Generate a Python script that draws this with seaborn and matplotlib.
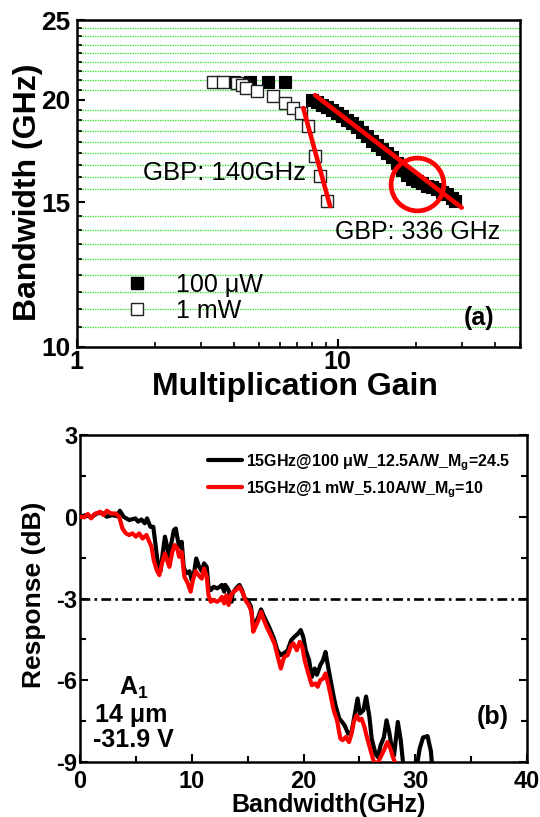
import numpy as np
import pandas as pd
import matplotlib
matplotlib.use("Agg")
import matplotlib.pyplot as plt
import seaborn as sns
from matplotlib.ticker import FixedLocator, NullFormatter, LogLocator
from matplotlib.lines import Line2D

# ---------------- Panel (a) data ----------------
gain_100uw = [4.0, 4.6, 5.4, 6.3,
              7.96, 8.32, 8.70, 9.09, 9.50, 9.92, 10.37, 10.84, 11.33, 11.84, 12.37,
              12.93, 13.51, 14.12, 14.76, 15.43, 16.12, 16.85, 17.61, 18.41, 19.23,
              20.10, 21.01, 21.96, 22.94, 23.98, 25.06, 26.20, 27.36, 28.19]
bw_100uw = [21.0, 21.0, 21.0, 21.0,
            20.0, 19.86, 19.71, 19.58, 19.43, 19.27, 19.09, 18.91, 18.73, 18.51, 18.28,
            18.05, 17.82, 17.61, 17.41, 17.20, 17.01, 16.74, 16.42, 16.18, 16.00,
            15.92, 15.82, 15.70, 15.63, 15.55, 15.44, 15.34, 15.19, 15.05]
gain_1mw = [3.34, 3.63, 4.11, 4.30, 4.46, 4.93, 5.64, 6.31, 6.77, 7.26, 7.73, 8.20, 8.57, 9.09]
bw_1mw = [21.01, 21.01, 20.97, 20.81, 20.66, 20.46, 20.20, 19.82, 19.52, 19.25, 18.56, 17.09, 16.12, 15.05]
fit_140_x = [7.39, 9.36]
fit_140_y = [19.53, 14.84]
fit_336_x = [8.2, 29.9]
fit_336_y = [20.25, 14.77]
circle_x = [20.1]
circle_y = [15.78]
a_yticks = [10, 15, 20, 25]
a_xticks = [1, 10]

# ---------------- Panel (b) data ----------------
freq_100uw = [0, 0.55, 1.0, 1.5, 1.94, 2.4, 2.87, 3.3, 3.57, 3.9, 4.4, 4.96, 5.2, 5.5, 5.8, 6.0,
              6.3, 6.56, 6.78, 7.0, 7.2, 7.4, 7.6, 7.8, 7.95, 8.17, 8.4, 8.57, 8.7, 8.87, 9.1,
              9.28, 9.5, 9.8, 10.0, 10.2, 10.4, 10.66, 10.9, 11.1, 11.34, 11.5, 11.7, 11.96,
              12.27, 12.5, 12.7, 12.9, 13.0, 13.3, 13.56, 13.65, 13.96, 14.27, 14.5, 14.73,
              15.0, 15.3, 15.5, 15.7, 15.96, 16.2, 16.4, 16.7, 16.98, 17.35, 17.66, 17.97,
              18.27, 18.58, 18.9, 19.2, 19.5, 19.75, 19.97, 20.2, 20.5, 20.74, 21.0, 21.2,
              21.5, 21.75, 21.97, 22.2, 22.4, 22.7, 22.9, 23.2, 23.45, 23.67, 24.0, 24.3,
              24.6, 24.84, 25.05, 25.36, 25.6, 25.9, 26.1, 26.44, 26.65, 26.9, 27.2, 27.43,
              27.67, 27.9, 28.1, 28.44, 28.7, 28.9, 29.2, 30.0, 30.4, 30.7, 31.1, 31.4, 31.6]
resp_100uw = [0, 0.06, -0.02, 0.12, 0.15, 0.0, 0.06, 0.02, 0.22, 0.0, -0.12, -0.06, -0.18, -0.1,
              -0.24, -0.06, -0.37, -0.37, -1.1, -1.84, -2.0, -1.35, -0.73, -1.1, -1.47, -0.98,
              -0.49, -0.43, -0.73, -1.1, -0.92, -1.84, -2.08, -2.0, -2.33, -2.08, -1.53, -1.84,
              -2.0, -1.71, -1.84, -2.57, -2.69, -2.57, -2.63, -2.57, -2.5, -2.75, -2.5, -2.69,
              -3.12, -2.82, -2.63, -2.5, -2.69, -3.0, -3.06, -3.3, -4.04, -3.92, -3.67, -3.4,
              -3.6, -3.86, -4.1, -4.47, -4.9, -5.08, -5.0, -4.9, -4.53, -4.4, -4.29, -4.16,
              -4.4, -4.9, -5.26, -5.88, -5.57, -5.8, -5.45, -5.26, -4.96, -5.5, -5.94, -6.6,
              -6.98, -7.4, -7.53, -7.65, -7.96, -7.9, -7.22, -6.67, -7.22, -7.1, -6.6, -7.35,
              -8.14, -8.69, -8.82, -8.39, -8.08, -7.47, -7.9, -8.5, -8.76, -7.53, -8.2, -9.0,
              -9.6, -9.5, -8.5, -8.1, -8.05, -8.6, -9.6]
freq_1mw = [0, 0.4, 0.7, 1.0, 1.3, 1.8, 2.1, 2.4, 2.77, 3.2, 3.5, 3.8, 4.1, 4.4, 4.7, 5.0, 5.3,
            5.6, 5.95, 6.2, 6.4, 6.6, 6.87, 7.1, 7.33, 7.6, 7.8, 8.0, 8.26, 8.47, 8.7, 8.87,
            9.1, 9.34, 9.65, 9.9, 10.1, 10.35, 10.6, 10.9, 11.1, 11.34, 11.5, 11.7, 11.96,
            12.27, 12.5, 12.7, 12.9, 13.1, 13.3, 13.56, 13.96, 14.27, 14.6, 14.8, 15.1, 15.35,
            15.5, 15.7, 15.96, 16.2, 16.4, 16.7, 17.0, 17.4, 17.7, 17.97, 18.27, 18.58, 18.9,
            19.1, 19.4, 19.66, 19.9, 20.1, 20.43, 20.74, 21.05, 21.27, 21.5, 21.75, 21.97,
            22.2, 22.4, 22.7, 23.0, 23.3, 23.5, 23.8, 24.07, 24.3, 24.5, 24.75, 25.0, 25.2,
            25.45, 25.67, 26.0, 26.3, 26.6, 26.9, 27.2, 27.5, 27.77, 28.0, 28.23, 28.5]
resp_1mw = [0, -0.02, 0.1, -0.06, 0.1, 0.18, 0.06, 0.22, 0.12, 0.12, 0.0, -0.43, -0.61, -0.67,
            -0.61, -0.73, -0.61, -0.8, -0.67, -0.92, -1.1, -1.6, -1.96, -2.14, -1.71, -1.35,
            -1.6, -1.84, -1.29, -1.04, -1.16, -1.47, -1.29, -2.2, -2.45, -2.75, -2.33, -2.0,
            -2.14, -2.27, -1.9, -2.2, -2.88, -3.12, -3.06, -3.12, -3.06, -2.94, -3.18, -2.88,
            -3.24, -2.82, -2.69, -2.57, -2.82, -3.06, -3.24, -3.49, -4.22, -4.04, -3.8, -3.49,
            -3.73, -4.04, -4.29, -4.65, -5.14, -5.57, -5.14, -5.08, -4.71, -4.65, -4.9, -4.59,
            -4.78, -5.26, -5.75, -6.18, -6.12, -6.24, -6.0, -5.94, -5.75, -6.12, -6.49, -7.1,
            -7.47, -8.14, -8.2, -8.08, -8.27, -7.96, -7.53, -7.29, -7.47, -7.41, -7.71, -8.08,
            -8.57, -9.0, -9.06, -8.82, -8.57, -8.27, -8.5, -8.82, -9.06, -9.5]
ref_db = -3
b_xticks = [0, 10, 20, 30, 40]
b_yticks = [-9, -6, -3, 0, 3]

label_100 = "100 \u03bcW"
label_1m = "1 mW"
label_b1 = "15GHz@100 \u03bcW_12.5A/W_M$_\\mathregular{g}$=24.5"
label_b2 = "15GHz@1 mW_5.10A/W_M$_\\mathregular{g}$=10"

# ---------------- style ----------------
sns.set_style("white")
plt.rcParams['font.family'] = ['Liberation Sans', 'DejaVu Sans']
plt.rcParams['mathtext.fontset'] = 'custom'
plt.rcParams['mathtext.rm'] = 'Liberation Sans'
plt.rcParams['mathtext.it'] = 'Liberation Sans:italic'
plt.rcParams['mathtext.bf'] = 'Liberation Sans:bold'
for k in ['text.color', 'axes.labelcolor', 'xtick.color', 'ytick.color', 'axes.edgecolor']:
    plt.rcParams[k] = 'black'

W, H = 540, 817
fig = plt.figure(figsize=(W / 100, H / 100), dpi=100)
def fx(p): return p / W
def fy(p): return 1 - p / H

ax1 = fig.add_axes([fx(76.5), fy(346.7), (520 - 76.5) / W, (346.7 - 20) / H])
ax2 = fig.add_axes([fx(80), fy(762), (527 - 80) / W, (762 - 435) / H])

# ---------------- Panel (a) ----------------
ax1.set_xscale('log')
ax1.set_yscale('log')
sns.scatterplot(x=gain_100uw, y=bw_100uw, marker='s', s=85, color='black',
                edgecolor='black', linewidth=0.8, ax=ax1, legend=False, zorder=3)
sns.scatterplot(x=gain_1mw, y=bw_1mw, marker='s', s=85, color='white',
                edgecolor='#222222', linewidth=1.0, ax=ax1, legend=False, zorder=4)
sns.lineplot(x=fit_140_x, y=fit_140_y, color='#ff0000', lw=3.3, ax=ax1, zorder=5)
sns.lineplot(x=fit_336_x, y=fit_336_y, color='#ff0000', lw=3.3, ax=ax1, zorder=5)
ax1.plot(circle_x, circle_y, marker='o', ms=38, mfc='none', mec='#ff0000', mew=3.4,
         ls='none', zorder=6)

ax1.set_xlim(1, 50)
ax1.set_ylim(10, 25)
ax1.set_xticks(a_xticks, [str(v) for v in a_xticks], fontsize=18, fontweight='bold')
ax1.xaxis.set_minor_locator(LogLocator(base=10, subs=np.arange(2, 10), numticks=20))
ax1.xaxis.set_minor_formatter(NullFormatter())
ax1.set_yticks(a_yticks, [str(v) for v in a_yticks], fontsize=19, fontweight='bold')
minor_y = []
for lo, hi in zip(a_yticks[:-1], a_yticks[1:]):
    minor_y += [lo + (hi - lo) * k / 9 for k in range(1, 9)]
ax1.yaxis.set_minor_locator(FixedLocator(minor_y))
ax1.yaxis.set_minor_formatter(NullFormatter())
ax1.grid(False)
ax1.grid(which='minor', axis='y', color='#1ee61e', linestyle=(0, (1, 1)), lw=0.9)
ax1.set_axisbelow(True)
ax1.tick_params(which='both', direction='in', left=True, bottom=True, top=False, right=False)
ax1.tick_params(which='major', length=6, width=1.5)
ax1.tick_params(which='minor', length=3.5, width=1.2)
ax1.tick_params(axis='y', which='major', pad=4.5)
ax1.tick_params(axis='x', which='major', pad=2.5)
for s in ax1.spines.values():
    s.set_linewidth(1.8)
    s.set_color('black')
ax1.set_xlabel('')
ax1.set_ylabel('')

h1 = [Line2D([], [], marker='s', ls='none', mfc='black', mec='black', ms=9),
      Line2D([], [], marker='s', ls='none', mfc='white', mec='#222222', ms=9, mew=1.0)]
ax1.legend(h1, [label_100, label_1m], loc='upper left',
           bbox_to_anchor=(fx(124.2), fy(272.6)), bbox_transform=fig.transFigure,
           frameon=False, borderpad=0, borderaxespad=0, handlelength=1.0,
           handletextpad=1.06, labelspacing=0.1, fontsize=18)

fig.text(fx(28), fy(192.5), 'Bandwidth (GHz)', rotation=90, fontsize=23,
         fontweight='bold', ha='center', va='center')
fig.text(fx(294.5), fy(387), 'Multiplication Gain', fontsize=23, fontweight='bold',
         ha='center', va='center')
fig.text(fx(143), fy(173), 'GBP: 140GHz', fontsize=18.5, ha='left', va='center')
fig.text(fx(335), fy(231.7), 'GBP: 336 GHz', fontsize=18, ha='left', va='center')
fig.text(fx(478.6), fy(318), '(a)', fontsize=18, fontweight='bold', ha='center', va='center')

# ---------------- Panel (b) ----------------
sns.lineplot(x=freq_100uw, y=resp_100uw, sort=False, estimator=None, color='black',
             lw=3.0, ax=ax2, zorder=3)
sns.lineplot(x=freq_1mw, y=resp_1mw, sort=False, estimator=None, color='#ff0000',
             lw=3.0, ax=ax2, zorder=4)
ax2.axhline(ref_db, color='black', lw=1.9, ls=(0, (3.7, 1.6, 1, 1.6)), zorder=2)
ax2.set_xlim(0, 40)
ax2.set_ylim(-9, 3)
ax2.set_xticks(b_xticks, [str(v) for v in b_xticks], fontsize=17, fontweight='bold')
ax2.set_yticks(b_yticks, [str(v) for v in b_yticks], fontsize=17, fontweight='bold')
ax2.xaxis.set_minor_locator(FixedLocator([5, 15, 25, 35]))
ax2.yaxis.set_minor_locator(FixedLocator([-7.5, -4.5, -1.5, 1.5]))
ax2.tick_params(which='both', direction='in', left=True, bottom=True, right=True, top=False)
ax2.tick_params(which='major', length=6, width=1.5, pad=2)
ax2.tick_params(which='minor', length=4, width=1.5)
ax2.tick_params(axis='x', which='major', pad=6)
for s in ax2.spines.values():
    s.set_linewidth(1.8)
    s.set_color('black')
ax2.set_xlabel('')
ax2.set_ylabel('')

h2 = [Line2D([], [], color='black', lw=3), Line2D([], [], color='#ff0000', lw=3)]
ax2.legend(h2, [label_b1, label_b2], loc='upper left',
           bbox_to_anchor=(fx(208), fy(452)), bbox_transform=fig.transFigure,
           frameon=False, borderpad=0, borderaxespad=0, handlelength=2.1,
           handletextpad=0.31, labelspacing=0.41,
           prop={'weight': 'bold', 'size': 11.5})

fig.text(fx(34.4), fy(595), 'Response (dB)', rotation=90, fontsize=19,
         fontweight='bold', ha='center', va='center')
fig.text(fx(329), fy(805), 'Bandwidth(GHz)', fontsize=18, fontweight='bold',
         ha='center', va='center')
fig.text(fx(119), fy(695), 'A$_\\mathregular{1}$', fontsize=18, fontweight='bold',
         ha='left', va='baseline')
fig.text(fx(94.7), fy(721.7), '14 \u03bcm', fontsize=18, fontweight='bold',
         ha='left', va='baseline')
fig.text(fx(93), fy(746.7), '-31.9 V', fontsize=18, fontweight='bold',
         ha='left', va='baseline')
fig.text(fx(492.5), fy(716.7), '(b)', fontsize=18, fontweight='bold',
         ha='center', va='center')

fig.savefig('out.png', dpi=100)
